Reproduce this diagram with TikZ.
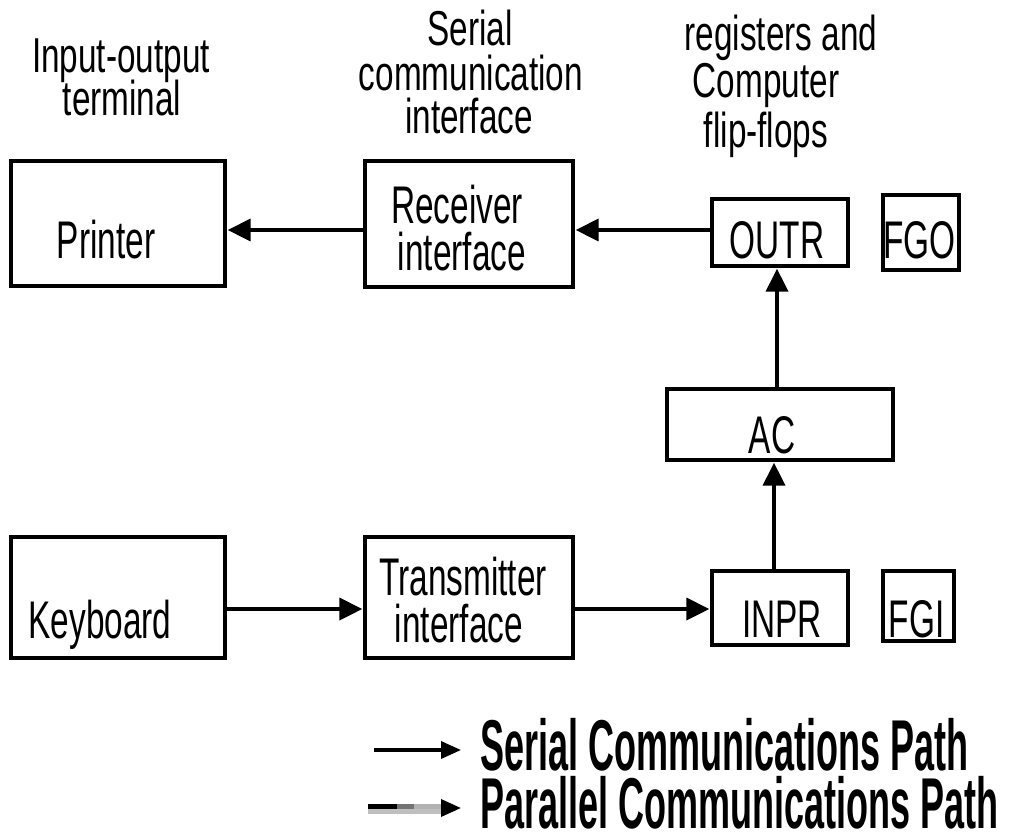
\documentclass[tikz,border=0pt]{standalone}
\usepackage{fontspec}
\setmainfont{Liberation Sans}[FakeStretch=0.63]
\newfontfamily\headfont{Liberation Sans}[FakeStretch=0.68]
\newfontfamily\legendfont{Liberation Sans}[FakeStretch=0.5]
\usetikzlibrary{arrows.meta}
\begin{document}
\begin{tikzpicture}[x=1pt,y=-1pt,
  box/.style={draw, line width=3.3pt, inner sep=0pt},
  lbl/.style={anchor=base, inner sep=0pt, font=\fontsize{53}{53}\selectfont},
  head/.style={anchor=base, inner sep=0pt, font=\headfont\fontsize{49}{49}\selectfont},
  legtext/.style={anchor=base west, inner sep=0pt, font=\legendfont\bfseries\fontsize{72}{72}\selectfont},
  arr/.style={line width=3.5pt, shorten >=1pt, -{Triangle[length=23pt,width=22pt]}},
  legarr/.style={line width=3.5pt, -{Triangle[length=20pt,width=17pt]}}]
\useasboundingbox (0,0) rectangle (1009,836);

% column headings
\node[head] (hio1) at (121,72) {Input-output};
\node[head] (hio2) at (122,115) {terminal};
\node[head] (hsc1) at (470,45) {Serial};
\node[head] (hsc2) at (471,90) {communication};
\node[head] (hsc3) at (469,133) {interface};
\node[head] (hcr1) at (781,50) {registers and};
\node[head] (hcr2) at (766,97) {Computer};
\node[head] (hcr3) at (766,147) {flip-flops};

% boxes
\node[box, minimum width=214pt, minimum height=125pt] (printer) at (118,223.5) {};
\node[box, minimum width=208pt, minimum height=126pt] (receiver) at (469,224) {};
\node[box, minimum width=136pt, minimum height=67pt] (outr) at (780,232.5) {};
\node[box, minimum width=76pt, minimum height=75pt] (fgo) at (921,232.5) {};
\node[box, minimum width=226pt, minimum height=71pt] (ac) at (780,424.5) {};
\node[box, minimum width=136pt, minimum height=74pt] (inpr) at (780,608) {};
\node[box, minimum width=71pt, minimum height=70pt] (fgi) at (918.5,606) {};
\node[box, minimum width=214pt, minimum height=121pt] (keyboard) at (118,597.5) {};
\node[box, minimum width=208pt, minimum height=121pt] (transmitter) at (469,597.5) {};

% box texts
\node[lbl] (tprinter) at (106,258) {Printer};
\node[lbl] (trcv1) at (457,223) {Receiver};
\node[lbl] (trcv2) at (462,270) {interface};
\node[lbl] (toutr) at (777,258) {OUTR};
\node[lbl] (tfgo) at (919.5,258) {FGO};
\node[lbl] (tac) at (772,453) {AC};
\node[lbl] (tinpr) at (782,637) {INPR};
\node[lbl] (tfgi) at (916.5,637) {FGI};
\node[lbl] (tkbd) at (100,638) {Keyboard};
\node[lbl] (ttx1) at (463,595) {Transmitter};
\node[lbl] (ttx2) at (459,642) {interface};

% data paths
\draw[arr] ([yshift=-6pt]receiver.west) -- ([yshift=-6pt]receiver.west -| printer.east);
\draw[arr] ([yshift=2.5pt]outr.west) -- ([yshift=2.5pt]outr.west -| receiver.east);
\draw[arr] ([xshift=-3pt]ac.north) -- ([xshift=-3pt]ac.north |- outr.south);
\draw[arr] ([xshift=-6pt]inpr.north) -- ([xshift=-6pt]inpr.north |- ac.south);
\draw[arr] ([yshift=-11.5pt]keyboard.east) -- ([yshift=-11.5pt]keyboard.east -| transmitter.west);
\draw[arr] ([yshift=-11.5pt]transmitter.east) -- ([yshift=-11.5pt]transmitter.east -| inpr.west);

% legend
\coordinate (s1) at (374,750);
\coordinate (s2) at (461,750);
\draw[legarr] (s1) -- (s2);
\node[legtext] (lserial) at (480,770) {Serial Communications Path};

\coordinate (p1) at (368,806);
\coordinate (p2) at (397,806);
\coordinate (p3) at (414,806);
\coordinate (p4) at (443,806);
\coordinate (q1) at (368,811);
\coordinate (q4) at (443,811);
\coordinate (p5) at (461,808);
\draw[line width=5pt, black!25] (q1) -- (q4);
\draw[line width=5pt, black] (p1) -- (p2);
\draw[line width=5pt, black!55] (p2) -- (p3);
\draw[line width=5pt, black!30] (p3) -- (p4);
\draw[legarr] ([xshift=-2pt]p4 |- p5) -- (p5);
\node[legtext] (lparallel) at (480,828) {Parallel Communications Path};
\end{tikzpicture}
\end{document}
